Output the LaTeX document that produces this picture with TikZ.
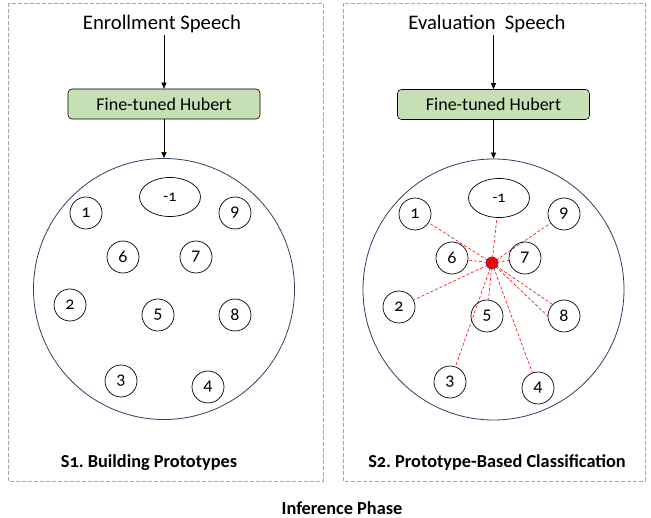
\documentclass[tikz,border=0pt]{standalone}
\usepackage{fontspec}
\setmainfont{Carlito}[Numbers=OldStyle]
\usetikzlibrary{shapes.geometric,arrows.meta,backgrounds}
\definecolor{boxgreen}{HTML}{C5E0B4}
\definecolor{navy}{HTML}{2F3F66}
\definecolor{dashgray}{HTML}{A6A6A6}
\frenchspacing
\tikzset{
 panel/.style={draw=dashgray, dash pattern=on 4pt off 2pt, line width=0.8pt},
 title/.style={font=\fontsize{20.7}{24}\selectfont, inner sep=2pt},
 model/.style={draw, rounded corners=4pt, fill=boxgreen, minimum width=192pt, minimum height=30pt, font=\fontsize{18}{21}\selectfont, line width=0.6pt},
 flow/.style={-{Triangle[length=6pt,width=5pt]}, line width=0.6pt},
 space/.style={circle, draw=navy, line width=0.8pt, minimum size=261pt, inner sep=0pt},
 proto/.style={circle, draw, line width=0.7pt, minimum size=32pt, inner sep=0pt, font=\fontsize{18}{20}\selectfont},
 reject/.style={ellipse, draw, line width=0.7pt, minimum width=61pt, minimum height=39pt, inner sep=0pt, font=\fontsize{16}{18}\selectfont},
 query/.style={circle, draw=navy, fill=red, minimum size=12pt, inner sep=0pt, line width=0.6pt},
 link/.style={red, dash pattern=on 3pt off 2pt, line width=0.6pt},
 caption/.style={font=\bfseries\fontsize{18.3}{21}\selectfont}
}
\begin{document}
\begin{tikzpicture}[x=1pt,y=-1pt]
\useasboundingbox (0,0) rectangle (651,518);
% panels
\draw[panel] (8,3) rectangle (323,481);
\draw[panel] (343,3) rectangle (645,481);

% ---------- left panel ----------
\node[title] (lt) at (162,24) {Enrollment Speech};
\node[model] (lm) at (164,104) {Fine-tuned Hubert};
\node[space] (ls) at (164,289) {};
\draw[flow] (lm.north |- lt.south) -- (lm.north);
\draw[flow] (lm.south) -- (ls.north);
\node[reject] (lr) at (170,197) {-1};
\node[proto] (l1) at (86,213) {1};
\node[proto] (l9) at (235,213) {9};
\node[proto] (l6) at (123,257) {6};
\node[proto] (l7) at (196,257) {7};
\node[proto] (l2) at (70,305) {2};
\node[proto] (l5) at (158,315) {5};
\node[proto] (l8) at (235,315) {8};
\node[proto] (l3) at (121,381) {3};
\node[proto] (l4) at (208,387) {4};
\node[caption] (lc) at (149,463) {S1. Building Prototypes};

% ---------- right panel ----------
\node[title] (rt) at (487,24) {Evaluation\ \ Speech};
\node[model] (rm) at (493.5,104.5) {Fine-tuned Hubert};
\node[space] (rs) at (493.5,289.5) {};
\draw[flow] (rm.north |- rt.south) -- (rm.north);
\draw[flow] (rm.south) -- (rs.north);
\node[reject] (rr) at (499,198) {-1};
\node[proto] (r1) at (415,214) {1};
\node[proto] (r9) at (564,214) {9};
\node[proto] (r6) at (452,258) {6};
\node[proto] (r7) at (525,258) {7};
\node[proto] (r2) at (399,307) {2};
\node[proto] (r5) at (487,316) {5};
\node[proto] (r8) at (564,316) {8};
\node[proto] (r3) at (450,382) {3};
\node[proto] (r4) at (538,388) {4};
\node[query] (q) at (492,263) {};
\begin{scope}[on background layer]
\foreach \t in {rr,r1,r9,r6,r7,r2,r5,r3,r4}
  \draw[link] (q.center) -- (\t);
\draw[link] (q.center) -- (r8.north west);
\draw[link] (q.center) -- (r8.west);
\end{scope}
\node[caption] (rc) at (497,463) {S2. Prototype-Based Classification};

\node[caption] (ip) at (342,508) {Inference Phase};
\end{tikzpicture}
\end{document}
